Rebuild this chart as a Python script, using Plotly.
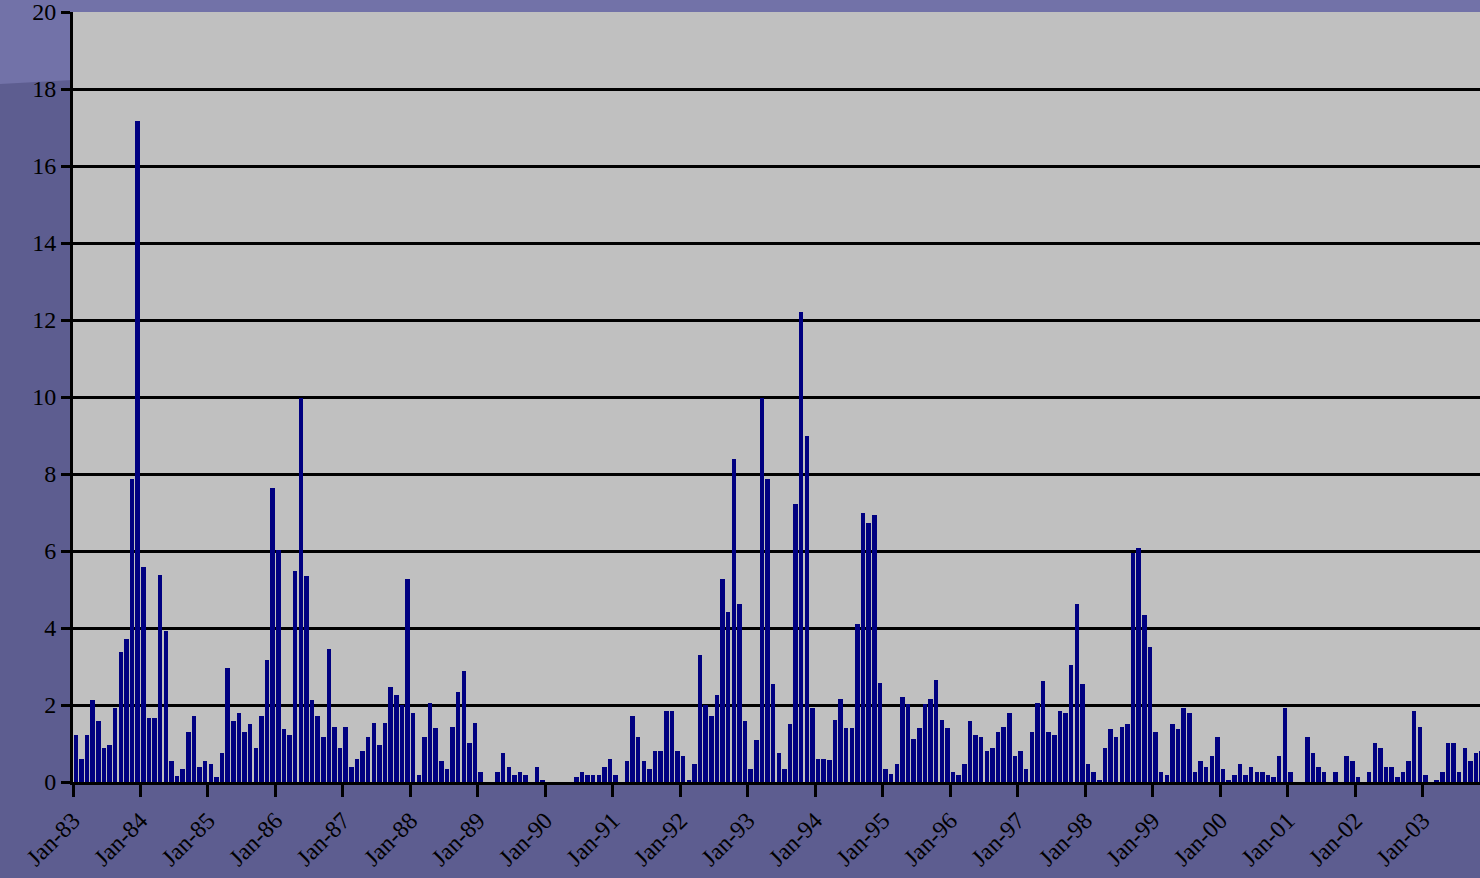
import pandas as pd
import plotly.graph_objects as go

# Monthly values starting Jan-83
values = [
    1.22, 0.60, 1.22, 2.14, 1.59, 0.89, 0.97, 1.93, 3.38, 3.71, 7.87, 17.18,   # 1983
    5.59, 1.65, 1.65, 5.38, 3.93, 0.55, 0.15, 0.34, 1.30, 1.71, 0.39, 0.55,    # 1984
    0.47, 0.13, 0.76, 2.97, 1.59, 1.80, 1.30, 1.51, 0.89, 1.72, 3.18, 7.64,    # 1985
    6.02, 1.38, 1.23, 5.47, 9.98, 5.34, 2.14, 1.72, 1.17, 3.46, 1.44, 0.89,    # 1986
    1.44, 0.40, 0.61, 0.81, 1.18, 1.52, 0.97, 1.52, 2.48, 2.27, 2.01, 5.26,    # 1987
    1.80, 0.19, 1.18, 2.06, 1.39, 0.55, 0.35, 1.44, 2.35, 2.89, 1.02, 1.52,    # 1988
    0.27, 0.00, 0.00, 0.27, 0.76, 0.40, 0.19, 0.27, 0.19, 0.00, 0.40, 0.06,    # 1989
    0.00, 0.00, 0.00, 0.00, 0.00, 0.14, 0.27, 0.19, 0.19, 0.19, 0.40, 0.61,    # 1990
    0.19, 0.00, 0.55, 1.72, 1.18, 0.55, 0.35, 0.81, 0.81, 1.85, 1.85, 0.81,    # 1991
    0.68, 0.06, 0.48, 3.31, 2.00, 1.72, 2.26, 5.26, 4.42, 8.38, 4.63, 1.59,    # 1992
    0.34, 1.09, 9.97, 7.88, 2.55, 0.75, 0.34, 1.51, 7.21, 12.20, 9.00, 1.93,   # 1993
    0.61, 0.61, 0.56, 1.60, 2.15, 1.39, 1.39, 4.10, 7.00, 6.72, 6.93, 2.56,    # 1994
    0.35, 0.20, 0.48, 2.22, 2.02, 1.11, 1.39, 2.02, 2.15, 2.64, 1.60, 1.39,    # 1995
    0.26, 0.18, 0.47, 1.58, 1.22, 1.17, 0.81, 0.88, 1.30, 1.43, 1.79, 0.68,    # 1996
    0.81, 0.34, 1.30, 2.05, 2.62, 1.30, 1.22, 1.84, 1.79, 3.04, 4.62, 2.55,    # 1997
    0.47, 0.26, 0.05, 0.88, 1.38, 1.17, 1.43, 1.51, 5.95, 6.08, 4.34, 3.51,    # 1998
    1.30, 0.26, 0.18, 1.51, 1.38, 1.92, 1.79, 0.26, 0.55, 0.39, 0.68, 1.17,    # 1999
    0.34, 0.05, 0.18, 0.47, 0.18, 0.39, 0.26, 0.26, 0.18, 0.13, 0.68, 1.93,    # 2000
    0.26, 0.00, 0.00, 1.17, 0.76, 0.39, 0.26, 0.00, 0.26, 0.00, 0.68, 0.55,    # 2001
    0.13, 0.00, 0.26, 1.02, 0.89, 0.39, 0.39, 0.13, 0.26, 0.55, 1.85, 1.43,    # 2002
    0.18, 0.00, 0.05, 0.26, 1.02, 1.02, 0.26, 0.89, 0.55, 0.76, 0.80,          # 2003
]

months = pd.date_range(start="1983-01-01", periods=len(values), freq="MS")
month_labels = list(months.strftime("%b-%y"))
month_index = list(range(len(values)))

tick_labels = ["Jan-83", "Jan-84", "Jan-85", "Jan-86", "Jan-87", "Jan-88", "Jan-89",
               "Jan-90", "Jan-91", "Jan-92", "Jan-93", "Jan-94", "Jan-95", "Jan-96",
               "Jan-97", "Jan-98", "Jan-99", "Jan-00", "Jan-01", "Jan-02", "Jan-03"]
tick_positions = [month_labels.index(t) for t in tick_labels]

y_ticks = [0, 2, 4, 6, 8, 10, 12, 14, 16, 18, 20]

W, H = 1480, 878
L, R, T, B = 73, 0, 12, 96
PW, PH = W - L - R, H - T - B


def px(x, y):
    return (x - L) / PW, (H - B - y) / PH


fig = go.Figure()
fig.add_trace(go.Bar(
    x=month_index,
    y=values,
    customdata=month_labels,
    hovertemplate="%{customdata}: %{y}<extra></extra>",
    marker=dict(color="#000080", line=dict(width=0)),
    offset=0.1,
    width=0.8,
))

pts = [px(0, 0), px(1480, 0), px(1480, 12), px(73, 12), px(73, 80), px(0, 84)]
path = "M " + " L ".join(f"{a:.5f},{b:.5f}" for a, b in pts) + " Z"

fig.update_layout(
    width=W, height=H,
    margin=dict(l=L, r=R, t=T, b=B, pad=0, autoexpand=False),
    paper_bgcolor="#5d5d90",
    plot_bgcolor="#c0c0c0",
    showlegend=False,
    bargap=0,
    font=dict(family="Liberation Serif, Times New Roman, serif", color="#000000"),
    shapes=[dict(type="path", path=path, xref="paper", yref="paper",
                 fillcolor="#7272a8", line=dict(width=0), layer="below")],
    xaxis=dict(
        range=[0, 250.2],
        tickmode="array",
        tickvals=tick_positions,
        ticktext=tick_labels,
        tickangle=-45,
        tickfont=dict(size=24, color="#000000"),
        ticks="outside", ticklen=12, tickwidth=3, tickcolor="#000000",
        ticklabeloverflow="allow",
        automargin=False,
        showgrid=False, zeroline=False,
        showline=True, linecolor="#000000", linewidth=3,
        fixedrange=True,
    ),
    yaxis=dict(
        range=[0, 20],
        tickmode="array",
        tickvals=y_ticks,
        tickfont=dict(size=24, color="#000000"),
        ticks="outside", ticklen=9, tickwidth=3, tickcolor="#000000",
        ticklabeloverflow="allow",
        automargin=False,
        showgrid=True, gridcolor="#000000", gridwidth=2.5,
        zeroline=False,
        showline=True, linecolor="#000000", linewidth=3,
        fixedrange=True,
    ),
)

fig.write_html(
    "out.html",
    config={"displayModeBar": False},
    post_script="document.body.style.margin='0';document.body.style.overflow='hidden';",
)
